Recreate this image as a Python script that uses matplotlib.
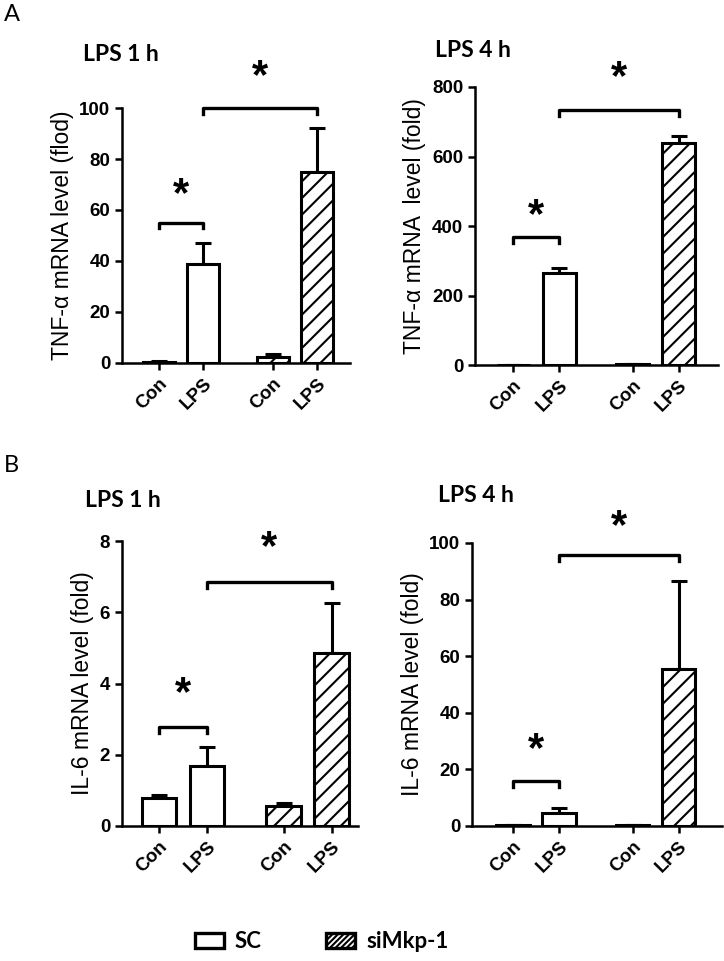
import matplotlib
matplotlib.use("Agg")
from matplotlib import pyplot as plt
from matplotlib.patches import Patch

plt.rcParams['font.family'] = ['Liberation Sans', 'DejaVu Sans']
plt.rcParams['hatch.linewidth'] = 1.5

groups = ["Con", "LPS", "Con", "LPS"]
xpos = [0, 1, 2.6, 3.6]

# means and (upper) errors
tnf_1h = [0.5, 39, 2.5, 75]
tnf_1h_err = [0.3, 8, 1.0, 17]
tnf_4h = [1, 265, 2, 638]
tnf_4h_err = [0.5, 15, 1, 22]
il6_1h = [0.78, 1.67, 0.55, 4.85]
il6_1h_err = [0.08, 0.55, 0.1, 1.4]
il6_4h = [0.3, 4.5, 0.3, 55.5]
il6_4h_err = [0.2, 2.0, 0.2, 31]

tnf_1h_ticks = [0, 20, 40, 60, 80, 100]
tnf_4h_ticks = [0, 200, 400, 600, 800]
il6_1h_ticks = [0, 2, 4, 6, 8]
il6_4h_ticks = [0, 20, 40, 60, 80, 100]

# significance brackets: (from bar, to bar, bracket height, star height)
tnf_1h_sig = [(0, 1, 55, 66), (1, 3, 100, 112)]
tnf_4h_sig = [(0, 1, 368, 430), (1, 3, 734, 826)]
il6_1h_sig = [(0, 1, 2.78, 3.7), (1, 3, 6.85, 7.8)]
il6_4h_sig = [(0, 1, 15.9, 26.8), (1, 3, 95.7, 105.6)]

hatches = [None, None, '//', '//']

fig = plt.figure(figsize=(7.24, 9.61), dpi=100)


def panel(rect, vals, errs, ticks, sig, ylabel, title, title_xy, xlim):
    ax = fig.add_axes(rect)
    for i, (x, v, e) in enumerate(zip(xpos, vals, errs)):
        ax.bar(x, v, width=0.72, color='white', edgecolor='black', linewidth=2.2,
               hatch=hatches[i], zorder=2)
        ax.errorbar(x, v, yerr=[[0], [e]], color='black', elinewidth=2.2,
                    capsize=6, capthick=2.2, zorder=1)
    ax.set_ylim(ticks[0], ticks[-1])
    ax.set_yticks(ticks)
    ax.set_xlim(*xlim)
    ax.set_xticks(xpos)
    ax.set_xticklabels(groups, rotation=45, ha='right', va='top',
                       rotation_mode='anchor', fontweight='bold', fontsize=13.5)
    for lab in ax.get_yticklabels():
        lab.set_fontweight('bold')
        lab.set_fontsize(13.5)
    ax.spines['top'].set_visible(False)
    ax.spines['right'].set_visible(False)
    ax.spines['left'].set_linewidth(1.8)
    ax.spines['bottom'].set_linewidth(1.8)
    ax.tick_params(width=1.8, length=5, direction='out')
    ax.set_ylabel(ylabel, fontsize=16.5, labelpad=4)
    top = ticks[-1]
    drop = top * 0.022
    for a, b, h, s in sig:
        xa, xb = xpos[a], xpos[b]
        ax.plot([xa, xa, xb, xb], [h - drop, h, h, h - drop], color='black',
                lw=2.4, clip_on=False, solid_joinstyle='round')
        ax.text((xa + xb) / 2, s, '*', ha='center', va='center', fontsize=30,
                fontweight='bold', clip_on=False)
    fig.text(title_xy[0], title_xy[1], title, fontsize=16.5, fontweight='bold',
             family=['Lato', 'DejaVu Sans'], ha='left', va='center')
    return ax


panel([0.1685, 0.6223, 0.3145, 0.2653], tnf_1h, tnf_1h_err, tnf_1h_ticks, tnf_1h_sig,
      'TNF-α mRNA level (flod)', 'LPS 1 h', (0.1146, 0.9428), (-0.84, 4.34))
panel([0.656, 0.620, 0.336, 0.2895], tnf_4h, tnf_4h_err, tnf_4h_ticks, tnf_4h_sig,
      'TNF-α mRNA  level (fold)', 'LPS 4 h', (0.6008, 0.947), (-0.83, 4.46))
panel([0.1685, 0.1405, 0.326, 0.2965], il6_1h, il6_1h_err, il6_1h_ticks, il6_1h_sig,
      'IL-6 mRNA level (fold)', 'LPS 1 h', (0.1174, 0.4797), (-0.77, 4.15))
panel([0.652, 0.1405, 0.345, 0.2945], il6_4h, il6_4h_err, il6_4h_ticks, il6_4h_sig,
      'IL-6 mRNA level (fold)', 'LPS 4 h', (0.605, 0.4839), (-0.89, 4.54))

fig.text(0.006, 0.9844, 'A', fontsize=17, family=['Lato', 'DejaVu Sans'], va='center')
fig.text(0.006, 0.516, 'B', fontsize=17, family=['Lato', 'DejaVu Sans'], va='center')

handles = [Patch(facecolor='white', edgecolor='black', linewidth=2.4, label='SC'),
           Patch(facecolor='white', edgecolor='black', linewidth=2.4, hatch='//////',
                 label='siMkp-1')]
fig.legend(handles=handles, loc='center left', bbox_to_anchor=(0.269, 0.02), ncol=2,
           frameon=False, borderpad=0, borderaxespad=0, columnspacing=2.9,
           handlelength=1.3, handleheight=0.64, handletextpad=0.5,
           prop={'family': ['Lato', 'DejaVu Sans'], 'weight': 'bold', 'size': 16})

fig.savefig('out.png', dpi=100)
